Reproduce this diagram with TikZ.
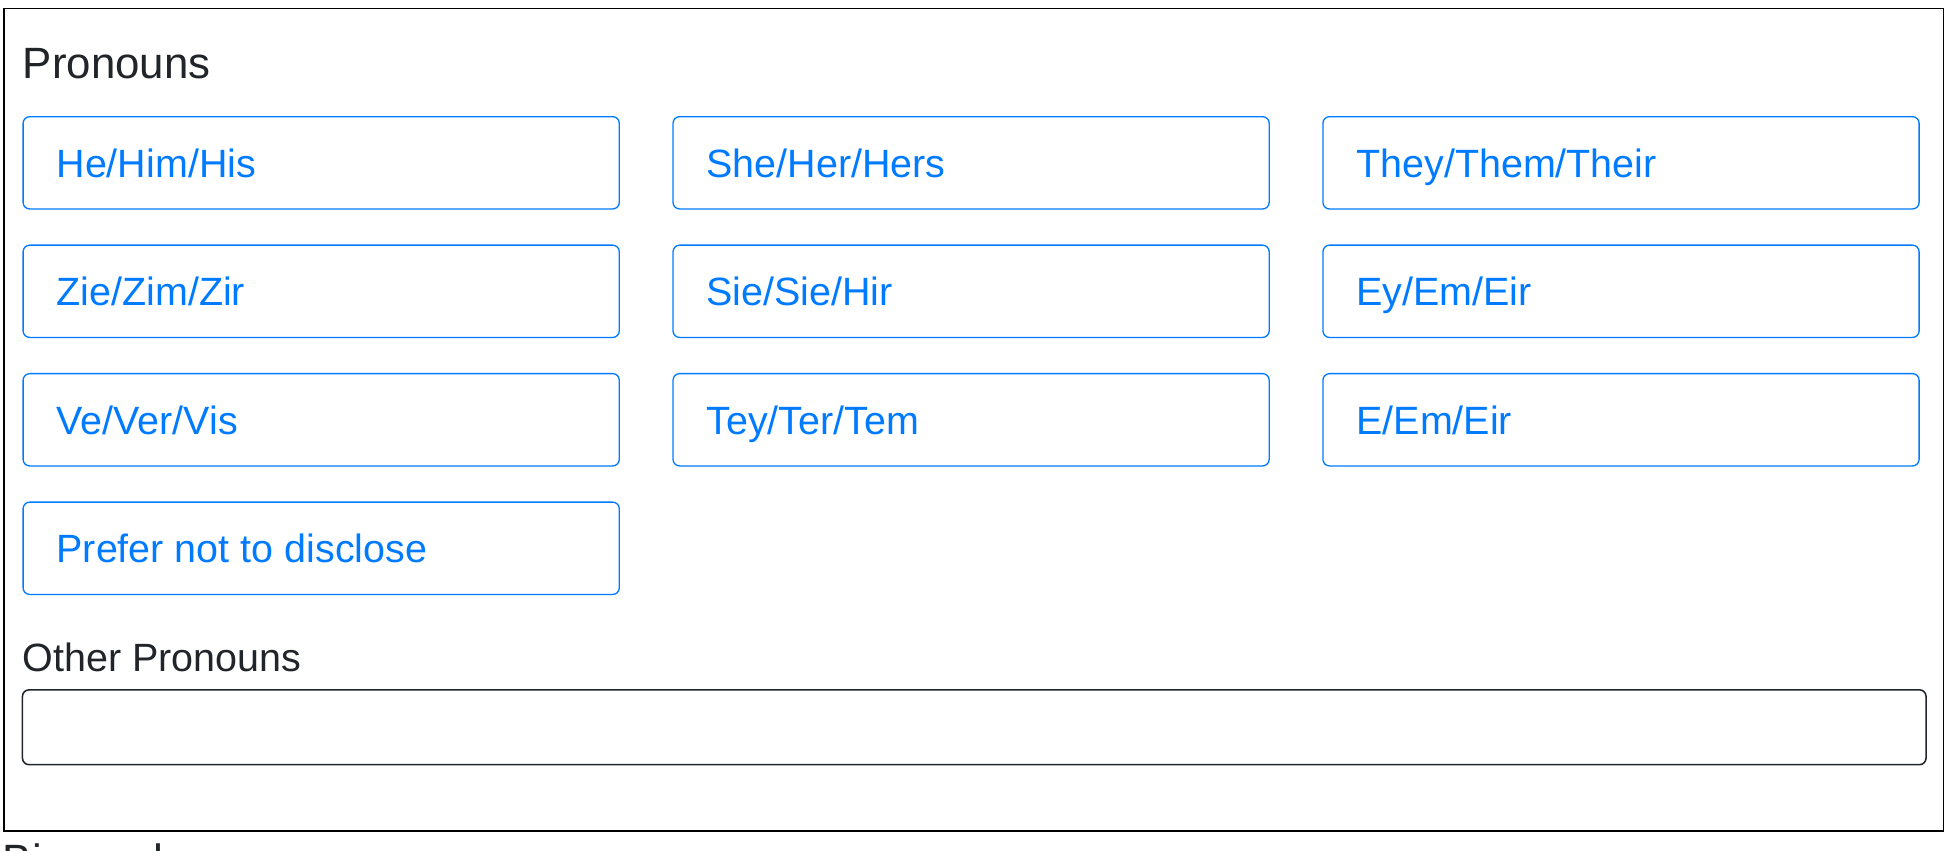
\documentclass[tikz,border=0pt]{standalone}
\usepackage{fontspec}
\setmainfont{Liberation Sans}
\definecolor{btnblue}{RGB}{0,123,255}
\definecolor{txtdark}{RGB}{33,37,41}
\tikzset{
  pbtn/.style={draw=btnblue,rounded corners=3pt,line width=0.6pt,minimum width=9.56cm,minimum height=1.48cm,anchor=north west},
  plabel/.style={btnblue,font=\fontsize{18}{20}\selectfont,anchor=base west,inner sep=0pt},
  head/.style={txtdark,anchor=base west,inner sep=0pt}
}
\begin{document}
\begin{tikzpicture}[x=0.02cm,y=-0.02cm]
\useasboundingbox (0,0) rectangle (1560,682);
\clip (0,0) rectangle (1560,682);
\draw[line width=0.7pt] (3,7) rectangle (1558,666);
\node[head,font=\fontsize{20}{22}\selectfont] (title) at (18,63) {Pronouns};
% pronoun buttons
\foreach \txt/\col/\row/\nm in {{He/Him/His}/0/0/a, {She/Her/Hers}/1/0/b, {They/Them/Their}/2/0/c,
  {Zie/Zim/Zir}/0/1/d, {Sie/Sie/Hir}/1/1/e, {Ey/Em/Eir}/2/1/f,
  {Ve/Ver/Vis}/0/2/g, {Tey/Ter/Tem}/1/2/h, {E/Em/Eir}/2/2/i,
  {Prefer not to disclose}/0/3/j}{
  \node[pbtn] (btn\nm) at (18+521*\col,93+103*\row) {};
  \node[plabel] (lbl\nm) at (45+521*\col,142+103*\row) {\txt};
}
\node[head,font=\fontsize{18}{20}\selectfont] (other) at (18,538) {Other Pronouns};
\draw[txtdark,rounded corners=3pt,line width=0.7pt] (18,553) rectangle (1544,613);
\node[head,font=\fontsize{20}{22}\selectfont] (bio) at (2,702) {Biography};
\end{tikzpicture}
\end{document}
